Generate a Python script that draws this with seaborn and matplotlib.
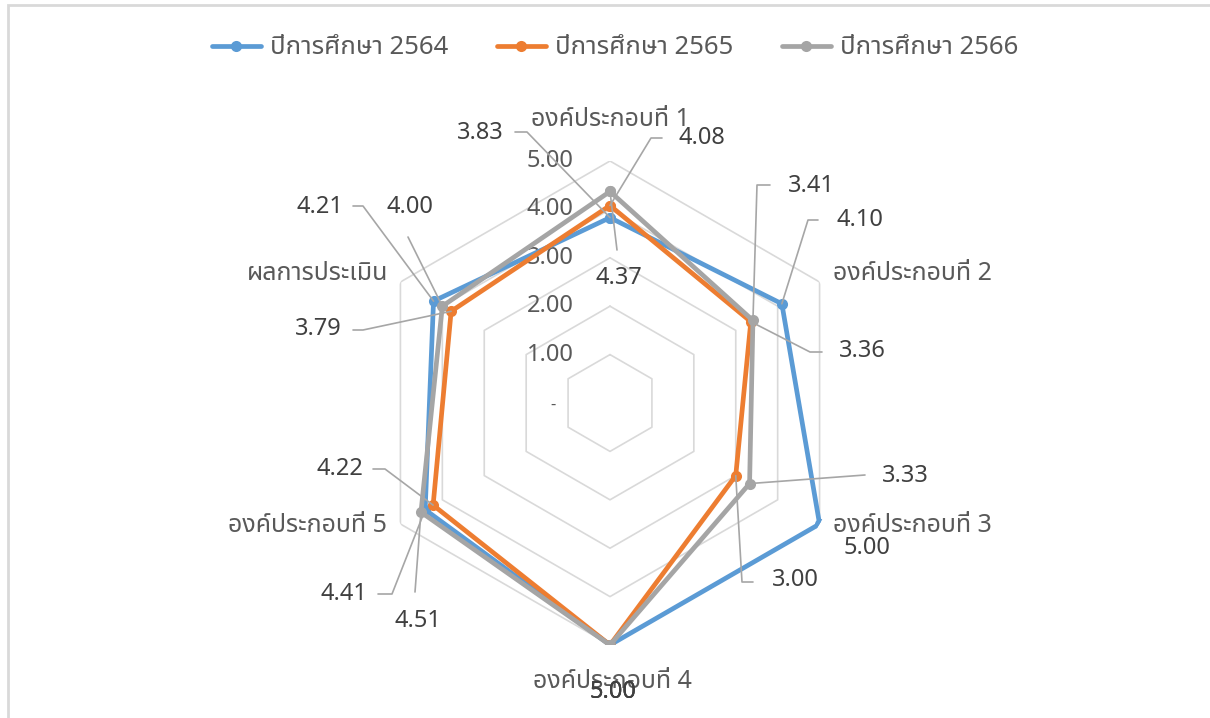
import numpy as np
import pandas as pd
import matplotlib
matplotlib.use("Agg")
import matplotlib.pyplot as plt
import matplotlib.font_manager as fm
from matplotlib.ft2font import FT2Font
from matplotlib.lines import Line2D
from matplotlib.patches import Rectangle
import seaborn as sns

# ---------------- data ----------------
categories = ["องค์ประกอบที่ 1", "องค์ประกอบที่ 2", "องค์ประกอบที่ 3",
              "องค์ประกอบที่ 4", "องค์ประกอบที่ 5", "ผลการประเมิน"]
series_names = ["ปีการศึกษา 2564", "ปีการศึกษา 2565", "ปีการศึกษา 2566"]
values_2564 = [3.83, 4.10, 5.00, 5.00, 4.41, 4.21]
values_2565 = [4.08, 3.36, 3.00, 5.00, 4.22, 3.79]
values_2566 = [4.37, 3.41, 3.33, 5.00, 4.51, 4.00]
r_ticks = [1, 2, 3, 4, 5]
r_tick_labels = ["1.00", "2.00", "3.00", "4.00", "5.00"]

colors = ["#5B9BD5", "#ED7D31", "#A5A5A5"]
TXT = "#595959"
GRID = "#D9D9D9"

# ---------------- fonts ----------------
sns.set_theme(style="white")


def find_thai_font():
    pref = ["Leelawadee UI", "Leelawadee", "Tahoma", "Noto Sans Thai",
            "Noto Sans Thai UI", "Noto Sans Thai Looped", "Sarabun", "Loma",
            "Garuda", "Waree", "Umpush", "Norasi", "Kinnari", "Sawasdee",
            "Tlwg Typo", "Laksaman", "Kanit", "Prompt"]
    names = {}
    for f in fm.fontManager.ttflist:
        names.setdefault(f.name, f.fname)
    for p in pref:
        if p in names:
            return p
    for name, path in names.items():
        try:
            cm = FT2Font(path).get_charmap()
            if 0x0E2D in cm and 0x0E1A in cm and 0x0E4C in cm:
                return name
        except Exception:
            pass
    for path in fm.findSystemFonts():
        try:
            cm = FT2Font(path).get_charmap()
            if 0x0E2D in cm and 0x0E1A in cm:
                fm.fontManager.addfont(path)
                return fm.FontProperties(fname=path).get_name()
        except Exception:
            pass
    return None


thai = find_thai_font()
fams = ([thai] if thai else []) + ["DejaVu Sans"]
plt.rcParams["font.family"] = fams

VAL_FS = 17
CAT_FS = 18
LEG_FS = 18.5

# ---------------- figure ----------------
W, H = 1210, 718
fig = plt.figure(figsize=(W / 100, H / 100), dpi=100)
fig.patch.set_facecolor("white")


def px(x, y):
    return (x / W, 1 - y / H)


cx, cy, R = 610, 403, 242
ax = fig.add_axes([(cx - R) / W, (H - cy - R) / H, 2 * R / W, 2 * R / H],
                  projection="polar")
ax.set_theta_zero_location("N")
ax.set_theta_direction(-1)
ax.set_ylim(0, 5)
ax.set_xticks([])
ax.set_yticks([])
ax.grid(False)
ax.spines["polar"].set_visible(False)
ax.set_facecolor("none")

n = len(categories)
theta = np.arange(n) * 2 * np.pi / n
theta_c = np.append(theta, 2 * np.pi)

# hexagonal grid
for r in r_ticks:
    ax.plot(theta_c, [r] * (n + 1), color=GRID, lw=1.2, zorder=1)

# series
all_vals = [values_2564, values_2565, values_2566]
rows = []
for name, vals in zip(series_names, all_vals):
    vc = list(vals) + [vals[0]]
    for t, v in zip(theta_c, vc):
        rows.append({"theta": t, "value": v, "year": name})
df = pd.DataFrame(rows)
sns.lineplot(data=df, x="theta", y="value", hue="year", hue_order=series_names,
             palette=colors, sort=False, marker="o", markersize=8,
             markeredgewidth=0, linewidth=3.4, ax=ax, legend=False, zorder=5)
ax.set_xlabel("")
ax.set_ylabel("")
ax.set_ylim(0, 5)

# radial tick labels
for r, lab in zip(r_ticks, r_tick_labels):
    ax.annotate(lab, xy=(0, r), xytext=(-60, 0), textcoords="offset pixels",
                ha="center", va="center", fontsize=VAL_FS, color=TXT, zorder=3)
ax.annotate("-", xy=(0, 0), xytext=(-57, -2), textcoords="offset pixels",
            ha="center", va="center", fontsize=12, color=TXT, zorder=3)

# category labels
cat_pos = [(610, 119), (912, 273), (912, 526), (612, 682), (308, 526), (318, 273)]
for lab, (x, y) in zip(categories, cat_pos):
    fig.text(*px(x, y), lab, ha="center", va="center", fontsize=CAT_FS, color=TXT)

# data labels with leader lines: (series, axis, text pos, leader points)
label_specs = [
    (0, 0, (480, 133), [(515, 132), (527, 132)]),
    (1, 0, (702, 138), [(662, 138), (651, 138)]),
    (2, 0, (619, 278), [(617, 250)]),
    (2, 1, (811, 186), [(770, 185), (757, 185)]),
    (0, 1, (860, 220), [(818, 220), (808, 220)]),
    (1, 1, (862, 351), [(822, 352), (810, 352)]),
    (2, 2, (905, 476), [(865, 475)]),
    (0, 2, (867, 548), None),
    (1, 2, (795, 580), [(753, 582), (742, 582)]),
    (0, 3, (613, 692), None),
    (1, 3, (613, 692), None),
    (2, 3, (613, 692), None),
    (1, 4, (340, 469), [(373, 469), (385, 469)]),
    (0, 4, (344, 594), [(378, 594), (392, 594)]),
    (2, 4, (418, 621), [(415, 592)]),
    (0, 5, (320, 207), [(353, 206), (363, 206)]),
    (2, 5, (410, 207), [(408, 237)]),
    (1, 5, (318, 329), [(353, 330), (363, 330)]),
]
inv = fig.transFigure.inverted()
for s, a, (tx, ty), leader in label_specs:
    v = all_vals[s][a]
    fig.text(*px(tx, ty), f"{v:.2f}", ha="center", va="center", fontsize=VAL_FS,
             color="#404040", zorder=6)
    if leader:
        dx, dy = ax.transData.transform((theta[a], v))
        pts = [px(x, y) for x, y in leader]
        end = inv.transform((dx, dy))
        xs = [p[0] for p in pts] + [end[0]]
        ys = [p[1] for p in pts] + [end[1]]
        fig.add_artist(Line2D(xs, ys, color="#A6A6A6", lw=1.2, zorder=2))

# legend
handles = [Line2D([], [], color=c, lw=3.4, marker="o", markersize=8,
                  markeredgewidth=0) for c in colors]
fig.legend(handles, series_names, loc="center", bbox_to_anchor=(615 / W, 1 - 48 / H),
           ncol=3, frameon=False, fontsize=LEG_FS, handlelength=1.9,
           columnspacing=1.9, handletextpad=0.35, labelcolor=TXT)

# chart border (top & left visible)
fig.add_artist(Rectangle(px(8, 800), (W + 50) / W, 795 / H, fill=False,
                         edgecolor=GRID, lw=2, transform=fig.transFigure))

fig.savefig("out.png", dpi=100, facecolor="white")
